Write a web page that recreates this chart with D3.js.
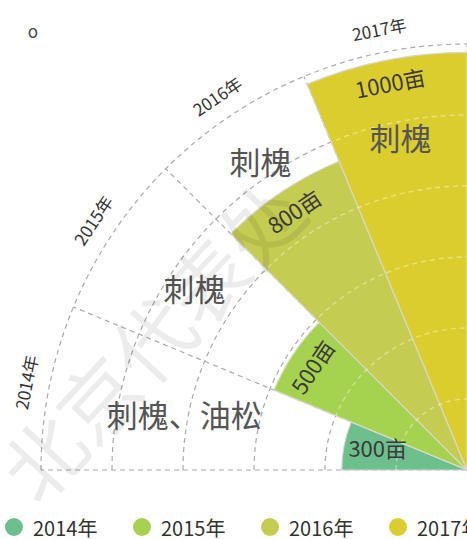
<!DOCTYPE html>
<html>
<head>
<meta charset="utf-8">
<script src="https://cdn.jsdelivr.net/npm/d3@7.9.0/dist/d3.min.js"></script>
<style>
  html, body { margin: 0; padding: 0; background: #fff; }
  svg { display: block; font-family: "Noto Sans CJK SC", "Noto Sans", sans-serif; }
</style>
</head>
<body>
<svg id="chart" width="467" height="539"></svg>
<script>
// data
const years = ['2014年', '2015年', '2016年', '2017年'];
const areas = [300, 500, 800, 1000];
const areaLabels = ['300亩', '500亩', '800亩', '1000亩'];
const species = ['刺槐、油松', '刺槐', '刺槐', '刺槐'];
const speciesAt = [690, 785, 890, 815];   // where the species name sits, in 亩
const rMax = 1020;
const ringCount = 6;

const colors = ['#6dbf8d', '#a6d34f', '#c5cc52', '#dccd2f'];

const cx = 467, cy = 470, R = 426;

const svg = d3.select('#chart');

const angle = d3.scaleBand().domain(years).range([-Math.PI / 2, 0]).padding(0);
const radius = d3.scaleLinear().domain([0, rMax]).range([0, R]);
const rings = d3.range(1, ringCount + 1).map(k => rMax * k / ringCount);

const g = svg.append('g');

function ringPath(v) {
  const p = d3.path();
  const r = radius(v);
  p.moveTo(cx - r, cy);
  p.arc(cx, cy, r, Math.PI, 1.5 * Math.PI);
  return p.toString();
}
function spokes() {
  return years.map(y => angle(y)).concat([0]).map(a =>
    `M${cx},${cy}L${cx + R * Math.sin(a)},${cy - R * Math.cos(a)}`);
}

// grid under the bars
const grid = g.append('g');
grid.selectAll('path.ring').data(rings).join('path')
  .attr('class', 'ring')
  .attr('d', ringPath)
  .attr('fill', 'none').attr('stroke', '#aaa').attr('stroke-width', 1.2)
  .attr('stroke-dasharray', '5,4');
grid.selectAll('path.spoke').data(spokes()).join('path')
  .attr('class', 'spoke')
  .attr('d', d => d)
  .attr('fill', 'none').attr('stroke', '#aaa').attr('stroke-width', 1.2)
  .attr('stroke-dasharray', '5,4');

// bars
const arc = d3.arc()
  .innerRadius(0)
  .outerRadius(d => radius(d.value))
  .startAngle(d => angle(d.year))
  .endAngle(d => angle(d.year) + angle.bandwidth());

const barData = years.map((y, i) => ({ year: y, value: areas[i], i }));

const defs = svg.append('defs');
defs.append('clipPath').attr('id', 'barsClip')
  .selectAll('path').data(barData).join('path')
  .attr('transform', `translate(${cx},${cy})`)
  .attr('d', arc);

g.append('g').attr('transform', `translate(${cx},${cy})`)
  .selectAll('path').data(barData).join('path')
  .attr('d', arc)
  .attr('fill', d => colors[d.i])
  .attr('stroke', '#d8d8d0').attr('stroke-width', 1.2);

// pale grid showing through the bars
const over = g.append('g').attr('clip-path', 'url(#barsClip)');
over.selectAll('path').data(rings).join('path')
  .attr('d', ringPath)
  .attr('fill', 'none').attr('stroke', '#fff').attr('stroke-opacity', 0.4)
  .attr('stroke-width', 1.4).attr('stroke-dasharray', '5,4');

const mid = y => angle(y) + angle.bandwidth() / 2;
const px = (a, r) => cx + r * Math.sin(a);
const py = (a, r) => cy - r * Math.cos(a);
const deg = a => a * 180 / Math.PI;

// angle axis labels
g.append('g').selectAll('text').data(years).join('text')
  .attr('transform', y => `translate(${px(mid(y), R + 24)},${py(mid(y), R + 24)}) rotate(${deg(mid(y))})`)
  .attr('text-anchor', 'middle').attr('dominant-baseline', 'central')
  .attr('font-size', 17).attr('fill', '#333')
  .text(y => y);

// value labels
g.append('g').selectAll('text').data(barData).join('text')
  .attr('transform', d => {
    const a = mid(d.year), r = radius(d.value) - 22;
    const rot = deg(a) < -70 ? 0 : deg(a);
    return `translate(${px(a, r) + (rot === 0 ? 12 : 0)},${py(a, r) - (rot === 0 ? 3 : 0)}) rotate(${rot})`;
  })
  .attr('text-anchor', 'middle').attr('dominant-baseline', 'central')
  .attr('font-size', 22).attr('fill', '#3a3a3a')
  .text(d => areaLabels[d.i]);

// species names
g.append('g').selectAll('text').data(years).join('text')
  .attr('x', (y, i) => px(mid(y), radius(speciesAt[i])))
  .attr('y', (y, i) => py(mid(y), radius(speciesAt[i])))
  .attr('text-anchor', 'middle').attr('dominant-baseline', 'central')
  .attr('font-size', 31).attr('fill', '#555')
  .text((y, i) => species[i]);

// title
svg.append('text').attr('x', 33).attr('y', 30)
  .attr('text-anchor', 'middle').attr('dominant-baseline', 'central')
  .attr('font-size', 17).attr('fill', '#444').text('o');

// legend
const legend = svg.append('g').attr('transform', `translate(14,527)`);
const item = legend.selectAll('g').data(years).join('g')
  .attr('transform', (y, i) => `translate(${i * 128},0)`);
item.append('circle').attr('r', 9).attr('fill', (y, i) => colors[i]);
item.append('text').attr('x', 19).attr('dominant-baseline', 'central')
  .attr('font-size', 20).attr('fill', '#333').text(y => y);

// watermark
svg.append('text')
  .attr('transform', 'translate(150,338) rotate(-47)')
  .attr('text-anchor', 'middle').attr('dominant-baseline', 'central')
  .attr('font-size', 80).attr('fill', '#000').attr('fill-opacity', 0.075)
  .text('北京代表处');
</script>
</body>
</html>
